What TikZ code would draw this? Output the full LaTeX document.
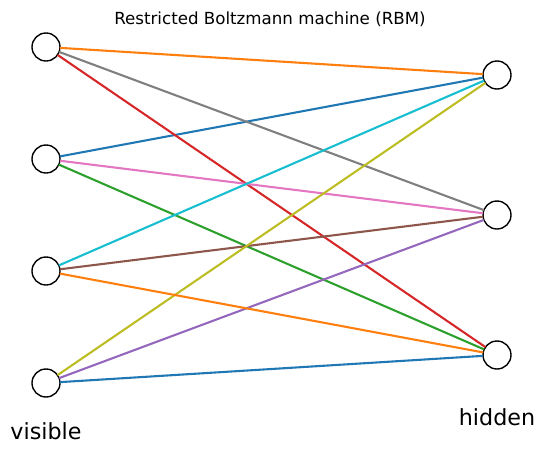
\documentclass[tikz,border=0pt]{standalone}
\usepackage{fontspec}
\setmainfont{DejaVu Sans}
\usetikzlibrary{calc}
\definecolor{tblue}{HTML}{1F77B4}
\definecolor{torange}{HTML}{FF7F0E}
\definecolor{tgreen}{HTML}{2CA02C}
\definecolor{tred}{HTML}{D62728}
\definecolor{tpurple}{HTML}{9467BD}
\definecolor{tbrown}{HTML}{8C564B}
\definecolor{tpink}{HTML}{E377C2}
\definecolor{tgray}{HTML}{7F7F7F}
\definecolor{tolive}{HTML}{BCBD22}
\definecolor{tcyan}{HTML}{17BECF}
\tikzset
{
    % Style for the units of both layers
    unit/.style=
    {
        draw=black,
        fill=white,
        line width=1pt,
        shape=circle,
        minimum size=20.16pt,
        inner sep=0pt,
        outer sep=0pt
    },
    % Style for the weights between the layers
    weight/.style=
    {
        line width=1.5pt
    },
    % Style for the layer names
    layer label/.style=
    {
        anchor=base,
        font=\fontsize{16}{19}\selectfont
    }
}

\begin{document}
\begin{tikzpicture}[x=0.72pt,y=-0.72pt]
    % Fix the page size to the reference
    \path [use as bounding box] (0,0) rectangle (544,454);

    % Title
    \node (title) at (270,24) [anchor=base,font=\fontsize{12}{14}\selectfont]
        {Restricted Boltzmann machine (RBM)};

    % Visible units
    \node (v1) [unit] at (46,47) {};
    \node (v2) [unit] at (46,159) {};
    \node (v3) [unit] at (46,271) {};
    \node (v4) [unit] at (46,383) {};
    % Hidden units
    \node (h1) [unit] at (497,75) {};
    \node (h2) [unit] at (497,215) {};
    \node (h3) [unit] at (497,355) {};

    % Weights
    \draw[weight,tblue]   (v2) -- (h1);
    \draw[weight,torange] (v1) -- (h1);
    \draw[weight,tgreen]  (v2) -- (h3);
    \draw[weight,tred]    (v1) -- (h3);
    \draw[weight,tpurple] (v4) -- (h2);
    \draw[weight,tbrown]  (v3) -- (h2);
    \draw[weight,tpink]   (v2) -- (h2);
    \draw[weight,tgray]   (v1) -- (h2);
    \draw[weight,tolive]  (v4) -- (h1);
    \draw[weight,tcyan]   (v3) -- (h1);
    \draw[weight,tblue]   (v4) -- (h3);
    \draw[weight,torange] (v3) -- (h3);

    % Layer names
    \node (visible) [layer label] at (46,439) {visible};
    \node (hidden) [layer label] at (497,425) {hidden};
\end{tikzpicture}
\end{document}
